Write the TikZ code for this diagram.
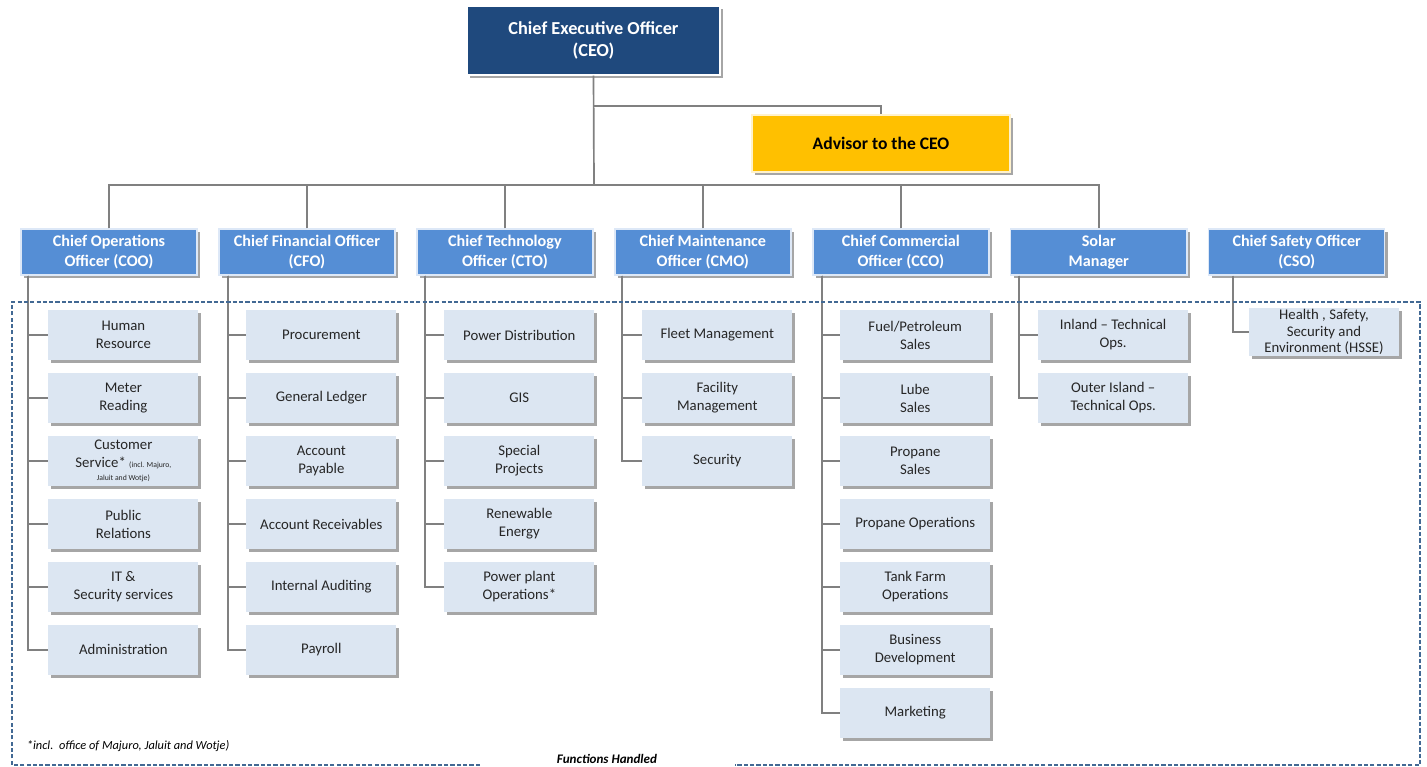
\documentclass[tikz,border=0pt]{standalone}
\usepackage{fontspec}
\setmainfont{Carlito}
\usepackage{tikz}
\usetikzlibrary{positioning,shadows}
\definecolor{cdark}{HTML}{1F497D}
\definecolor{cmid}{HTML}{558ED5}
\definecolor{clight}{HTML}{DCE6F2}
\definecolor{cgold}{HTML}{FFC000}
\definecolor{cline}{HTML}{808080}
\definecolor{cdash}{HTML}{426994}

\begin{document}
\begin{tikzpicture}[x=0.025cm, y=-0.025cm,
  shade_/.style={drop shadow={shadow xshift=2pt, shadow yshift=-2pt, opacity=0.35, fill=black}},
  ceo_/.style={rectangle, fill=cdark, draw=white, line width=1pt, text=white, align=center,
    font=\fontsize{13}{16}\selectfont\bfseries, minimum width=6.325cm, minimum height=1.725cm, shade_},
  adv_/.style={rectangle, fill=cgold, draw=white!80!cgold, line width=1pt, text=black, align=center,
    font=\fontsize{12.5}{15}\selectfont\bfseries, minimum width=6.45cm, minimum height=1.425cm, shade_},
  chief_/.style={rectangle, fill=cmid, draw=white!80!cmid, line width=1pt, text=white, align=center,
    font=\fontsize{11.5}{14}\selectfont\bfseries, inner sep=1pt, minimum width=4.4cm, minimum height=1.15cm, shade_},
  sub_/.style={rectangle, fill=clight, text=black!85, align=center, font=\fontsize{10.5}{12.8}\selectfont,
    inner sep=1pt, minimum width=3.75cm, minimum height=1.25cm, shade_},
  first_/.style={below=0.85cm of #1, xshift=0.36cm},
  next_/.style={below=0.31cm of #1},
  link/.style={draw=cline, line width=1.2pt},
  frame_/.style={draw=cdash, line width=1pt, dash pattern=on 3pt off 1.5pt}
]
\useasboundingbox (0,0) rectangle (1427,767);

% top of the chart
\node[ceo_] (ceo) at (593.5,40.5) {Chief Executive Officer\\(CEO)};
\node[adv_] (adv) at (881,143.5) {Advisor to the CEO};

% chiefs
\node[chief_] (coo) at (109,252) {Chief Operations\\Officer (COO)};
\node[chief_, right=0.5125cm of coo] (cfo) {Chief Financial Officer\\(CFO)};
\node[chief_, right=0.5125cm of cfo] (cto) {Chief Technology\\Officer (CTO)};
\node[chief_, right=0.5125cm of cto] (cmo) {Chief Maintenance\\Officer (CMO)};
\node[chief_, right=0.5125cm of cmo] (cco) {Chief Commercial\\Officer (CCO)};
\node[chief_, right=0.5125cm of cco] (solar) {Solar\\Manager};
\node[chief_, right=0.5125cm of solar] (cso) {Chief Safety Officer\\(CSO)};

% COO
\node[sub_, first_=coo] (hr) {Human\\Resource};
\node[sub_, next_=hr] (meter) {Meter\\Reading};
\node[sub_, next_=meter] (cust) {Customer\\Service* {\fontsize{5.5}{7}\selectfont(incl. Majuro,}\\[-3pt]{\fontsize{5.5}{7}\selectfont Jaluit and Wotje)}};
\node[sub_, next_=cust] (pr) {Public\\Relations};
\node[sub_, next_=pr] (it) {IT \&\\Security services};
\node[sub_, next_=it] (admin) {Administration};

% CFO
\node[sub_, first_=cfo] (proc) {Procurement};
\node[sub_, next_=proc] (gl) {General Ledger};
\node[sub_, next_=gl] (ap) {Account\\Payable};
\node[sub_, next_=ap] (ar) {Account Receivables};
\node[sub_, next_=ar] (audit) {Internal Auditing};
\node[sub_, next_=audit] (pay) {Payroll};

% CTO
\node[sub_, first_=cto] (dist) {Power Distribution};
\node[sub_, next_=dist] (gis) {GIS};
\node[sub_, next_=gis] (spec) {Special\\Projects};
\node[sub_, next_=spec] (renew) {Renewable\\Energy};
\node[sub_, next_=renew] (plant) {Power plant\\Operations*};

% CMO
\node[sub_, first_=cmo] (fleet) {Fleet Management};
\node[sub_, next_=fleet] (facil) {Facility\\Management};
\node[sub_, next_=facil] (secur) {Security};

% CCO
\node[sub_, first_=cco] (fuel) {Fuel/Petroleum\\Sales};
\node[sub_, next_=fuel] (lube) {Lube\\Sales};
\node[sub_, next_=lube] (prop) {Propane\\Sales};
\node[sub_, next_=prop] (propops) {Propane Operations};
\node[sub_, next_=propops] (tank) {Tank Farm\\Operations};
\node[sub_, next_=tank] (busdev) {Business\\Development};
\node[sub_, next_=busdev] (mkt) {Marketing};

% Solar
\node[sub_, first_=solar] (inland) {Inland – Technical\\Ops.};
\node[sub_, next_=inland] (outer) {Outer Island –\\Technical Ops.};

% CSO
\node[sub_, below=0.8cm of cso, xshift=0.68cm, minimum height=1.2cm, inner sep=0pt,
  font=\fontsize{10.5}{12}\selectfont] (hsse) {Health , Safety,\\Security and\\Environment (HSSE)};

% lines
\coordinate (bus) at (594,185);
\coordinate (tap) at (594,106);
\draw[link] (ceo.south) -- (bus);
\draw[link] (tap) -| (adv.north);
\draw[link] (coo.north) |- (bus) -| (solar.north);
\foreach \c in {cfo,cto,cmo,cco}
  \draw[link] (\c.north) -- (\c.north |- bus);

\foreach \s in {hr,meter,cust,pr,it,admin}
  \draw[link] ([xshift=0.2cm]coo.south west) |- (\s.west);
\foreach \s in {proc,gl,ap,ar,audit,pay}
  \draw[link] ([xshift=0.25cm]cfo.south west) |- (\s.west);
\foreach \s in {dist,gis,spec,renew,plant}
  \draw[link] ([xshift=0.225cm]cto.south west) |- (\s.west);
\foreach \s in {fleet,facil,secur}
  \draw[link] ([xshift=0.2cm]cmo.south west) |- (\s.west);
\foreach \s in {fuel,lube,prop,propops,tank,busdev,mkt}
  \draw[link] ([xshift=0.25cm]cco.south west) |- (\s.west);
\foreach \s in {inland,outer}
  \draw[link] ([xshift=0.225cm]solar.south west) |- (\s.west);
\draw[link] ([xshift=0.625cm]cso.south west) |- (hsse.west);

% functions frame
\node[font=\fontsize{9.3}{11}\selectfont\bfseries\itshape] (fh) at (607,759) {Functions Handled};
\node[anchor=west, font=\fontsize{8.8}{10}\selectfont\itshape] (note) at (22,746) {*incl.\ \ office of Majuro, Jaluit and Wotje)};
\draw[frame_] (480,765) -| (12,302) -- (1420,302) |- (735,765);
\end{tikzpicture}
\end{document}
